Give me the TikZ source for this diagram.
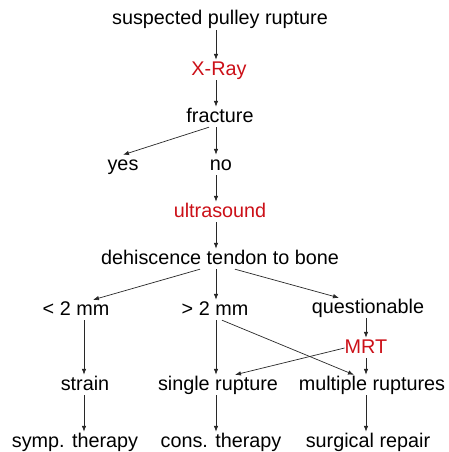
\documentclass[tikz,border=0pt]{standalone}
\usepackage{fontspec}
\setmainfont{Liberation Sans}
\usetikzlibrary{arrows.meta}
\definecolor{redtxt}{RGB}{204,16,24}
\definecolor{linec}{RGB}{40,40,40}
\tikzset{
  lbl/.style={inner sep=1pt, text height=14pt, text depth=4pt, font=\fontsize{19.8}{22}\selectfont},
  redlbl/.style={lbl, text=redtxt},
  arr/.style={draw=linec, line width=0.7pt, -{Latex[length=6pt,width=4.5pt]}}
}
\begin{document}
\begin{tikzpicture}[x=1pt,y=-1pt]
\useasboundingbox[fill=white] (0,0) rectangle (448,452);
\node[lbl] (spr) at (220,20) {suspected pulley rupture};
\node[redlbl] (xr) at (219,70) {X-Ray};
\node[lbl] (fr) at (220,117) {fracture};
\node[lbl] (yes) at (123,165) {yes};
\node[lbl] (no) at (221,165) {no};
\node[redlbl] (us) at (220,212) {ultrasound};
\node[lbl] (dt) at (220,259) {dehiscence tendon to bone};
\node[lbl] (lt) at (76,310) {< 2 mm};
\node[lbl] (gt) at (215,310) {> 2 mm};
\node[lbl] (qu) at (368,308) {questionable};
\node[redlbl] (mrt) at (366,348) {MRT};
\node[lbl] (st) at (85,385) {strain};
\node[lbl] (sr) at (218,385) {single rupture};
\node[lbl] (mr) at (372,385) {multiple ruptures};
\node[lbl] (sy) at (75,442) {symp. therapy};
\node[lbl] (co) at (221,442) {cons. therapy};
\node[lbl] (su) at (368,442) {surgical repair};

\draw[arr] ([xshift=-4pt]spr.south) -- ([xshift=-3pt]xr.north);
\draw[arr] ([xshift=-3pt]xr.south) -- ([xshift=-4pt]fr.north);
\draw[arr] ([xshift=-11pt]fr.south) -- (yes.north);
\draw[arr] ([xshift=-4pt]fr.south) -- ([xshift=-5pt]no.north);
\draw[arr] ([xshift=-5pt]no.south) -- ([xshift=-4pt]us.north);
\draw[arr] ([xshift=-4pt]us.south) -- ([xshift=-4pt]dt.north);
\draw[arr] ([xshift=-20pt]dt.south) -- ([xshift=17pt]lt.north);
\draw[arr] ([xshift=-4pt]dt.south) -- ([xshift=1pt]gt.north);
\draw[arr] ([xshift=15pt]dt.south) -- ([xshift=-29pt]qu.north);
\draw[arr] ([xshift=-2pt]qu.south) -- (mrt.north);
\draw[arr] ([xshift=8pt]lt.south) -- ([xshift=-1pt]st.north);
\draw[arr] ([xshift=1pt]gt.south) -- ([xshift=-2pt]sr.north);
\draw[arr] ([xshift=7pt]gt.south) -- ([xshift=-18pt]mr.north);
\draw[arr] (mrt.south) -- ([xshift=-6pt]mr.north);
\draw[arr] ([xshift=1pt]mrt.west) -- ([xshift=17pt]sr.north);
\draw[arr] ([xshift=-1pt]st.south) -- ([xshift=9pt]sy.north);
\draw[arr] ([xshift=-2pt]sr.south) -- ([xshift=-5pt]co.north);
\draw[arr] ([xshift=-6pt]mr.south) -- ([xshift=-2pt]su.north);
\end{tikzpicture}
\end{document}
